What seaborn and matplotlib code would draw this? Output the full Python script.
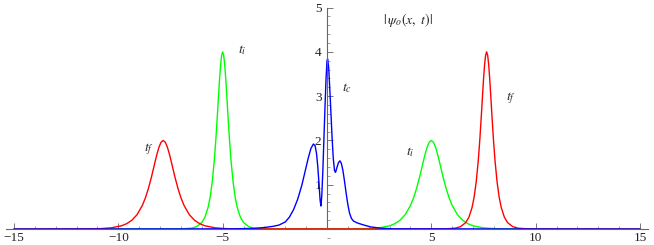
import numpy as np
import seaborn as sns
import matplotlib.pyplot as plt
import matplotlib.ticker as mticker

# peak profiles (offset from peak centre, height)
wide_dx = [-3.5, -3.0, -2.5, -2.0, -1.75, -1.5, -1.25, -1.0, -0.85, -0.7, -0.55, -0.4, -0.3, -0.2, -0.1, 0.0,
           0.1, 0.2, 0.3, 0.4, 0.55, 0.7, 0.85, 1.0, 1.25, 1.5, 1.75, 2.0, 2.5, 3.0, 3.5]
wide_y = [0.004, 0.010, 0.027, 0.073, 0.121, 0.199, 0.326, 0.532, 0.707, 0.930, 1.198, 1.496, 1.688, 1.850, 1.961, 2.0,
          1.961, 1.850, 1.688, 1.496, 1.198, 0.930, 0.707, 0.532, 0.326, 0.199, 0.121, 0.073, 0.027, 0.010, 0.004]

narrow_dx = [-2.0, -1.5, -1.25, -1.0, -0.85, -0.7, -0.6, -0.5, -0.4, -0.325, -0.25, -0.2, -0.15, -0.1, -0.05, 0.0,
             0.05, 0.1, 0.15, 0.2, 0.25, 0.325, 0.4, 0.5, 0.6, 0.7, 0.85, 1.0, 1.25, 1.5, 2.0]
narrow_y = [0.003, 0.020, 0.054, 0.147, 0.267, 0.485, 0.720, 1.063, 1.552, 2.030, 2.592, 2.992, 3.375, 3.700, 3.921, 4.0,
            3.921, 3.700, 3.375, 2.992, 2.592, 2.030, 1.552, 1.063, 0.720, 0.485, 0.267, 0.147, 0.054, 0.020, 0.003]

# peak centres
red_left, red_right = -7.85, 7.65      # t_f
green_left, green_right = -5.0, 5.0    # t_i

# central curve t_c
blue_x = [-15.0, -4.5, -3.5, -3.0, -2.6, -2.3, -2.0, -1.8, -1.6, -1.4, -1.2, -1.05, -0.9, -0.77, -0.65, -0.57,
          -0.5, -0.44, -0.38, -0.33, -0.29, -0.25, -0.2, -0.15, -0.1, -0.05, 0.0, 0.03, 0.08, 0.13, 0.18, 0.24,
          0.3, 0.36, 0.41, 0.47, 0.55, 0.62, 0.69, 0.76, 0.84, 0.92, 1.0, 1.08, 1.17, 1.27, 1.44, 1.7,
          2.07, 2.56, 3.2, 15.0]
blue_y = [0.0, 0.005, 0.015, 0.035, 0.06, 0.09, 0.16, 0.27, 0.44, 0.68, 1.0, 1.3, 1.6, 1.82, 1.92, 1.88,
          1.70, 1.40, 1.0, 0.65, 0.52, 0.75, 1.3, 2.0, 2.7, 3.35, 3.8, 3.84, 3.65, 3.2, 2.7, 2.1,
          1.6, 1.32, 1.28, 1.38, 1.50, 1.54, 1.48, 1.33, 1.08, 0.80, 0.55, 0.36, 0.24, 0.18, 0.14, 0.10,
          0.05, 0.02, 0.005, 0.0]


def two_peaks(c1, dx1, y1, c2, dx2, y2):
    x = [-15.0] + [c1 + d for d in dx1] + [c2 + d for d in dx2] + [15.0]
    y = [0.0] + list(y1) + list(y2) + [0.0]
    return x, y


red_x, red_y = two_peaks(red_left, wide_dx, wide_y, red_right, narrow_dx, narrow_y)
green_x, green_y = two_peaks(green_left, narrow_dx, narrow_y, green_right, wide_dx, wide_y)

sns.set_style("white")
plt.rcParams["mathtext.fontset"] = "stix"
plt.rcParams["font.family"] = ["Liberation Serif", "DejaVu Serif"]

fig = plt.figure(figsize=(6.54, 2.45), dpi=100)
ax = fig.add_axes([0, 0, 1, 1])

sns.lineplot(x=green_x, y=green_y, color="#00ff00", lw=1.0, ax=ax, sort=False)
sns.lineplot(x=red_x, y=red_y, color="#ff0000", lw=1.0, ax=ax, sort=False)
sns.lineplot(x=blue_x, y=blue_y, color="#0000ff", lw=1.0, ax=ax, sort=False)

ax.set_xlim(-15.67, 15.67)
ax.set_ylim(-0.36, 5.17)

for side in ["top", "right"]:
    ax.spines[side].set_visible(False)
ax.spines["left"].set_position(("data", 0))
ax.spines["bottom"].set_position(("data", 0))
ax.spines["left"].set_bounds(0, 5)
ax.spines["bottom"].set_bounds(-15.4, 15.4)
for side in ["left", "bottom"]:
    ax.spines[side].set_color("#666666")
    ax.spines[side].set_linewidth(0.8)

ax.set_xticks([-15, -10, -5, 5, 10, 15])
ax.set_yticks([1, 2, 3, 4, 5])
ax.xaxis.set_minor_locator(mticker.MultipleLocator(1))
ax.yaxis.set_minor_locator(mticker.MultipleLocator(0.2))
ax.tick_params(which="both", direction="in", bottom=True, left=True, color="#777777",
               labelsize=9.5, labelcolor="#222222")
ax.tick_params(which="major", length=4, width=0.7)
ax.tick_params(which="minor", length=2.2, width=0.5)
ax.tick_params(axis="x", which="major", pad=2)
ax.tick_params(axis="y", which="major", pad=4)
ax.set_xlabel("")
ax.set_ylabel("")

ax.text(2.7, 4.72, r"$|\,\psi_o(x,\ t)|$", fontsize=10, ha="left", va="center")
ax.text(-4.05, 4.04, r"$t_i$", fontsize=10, ha="center", va="center")
ax.text(0.95, 3.18, r"$t_c$", fontsize=10, ha="center", va="center")
ax.text(-8.55, 1.8, r"$t_f$", fontsize=10, ha="center", va="center")
ax.text(4.0, 1.74, r"$t_i$", fontsize=10, ha="center", va="center")
ax.text(8.8, 2.96, r"$t_f$", fontsize=10, ha="center", va="center")

fig.savefig("out.png", dpi=100)
